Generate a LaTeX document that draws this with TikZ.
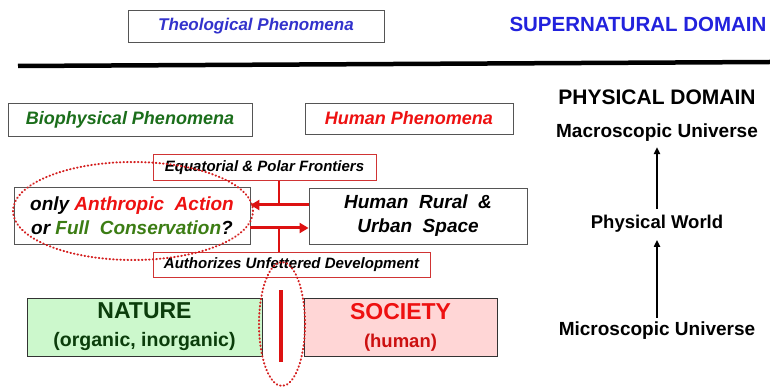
\documentclass[tikz,border=0pt]{standalone}
\usepackage{fontspec}
\setmainfont{Liberation Sans}
\usetikzlibrary{arrows.meta,shapes.geometric}

\definecolor{boxgray}{HTML}{555555}
\definecolor{framered}{HTML}{D03434}
\definecolor{ringred}{HTML}{D42020}
\definecolor{linkred}{HTML}{DD1111}
\definecolor{textred}{HTML}{EE1111}
\definecolor{deepred}{HTML}{CC1111}
\definecolor{textblue}{HTML}{3333CC}
\definecolor{domainblue}{HTML}{2222DD}
\definecolor{biogreen}{HTML}{1B6E1B}
\definecolor{consgreen}{HTML}{3C7D14}
\definecolor{naturegreen}{HTML}{0B3D0B}
\definecolor{naturefill}{HTML}{CCF8CC}
\definecolor{societyfill}{HTML}{FFD6D6}

\tikzset{
  phbox/.style={draw=boxgray, line width=0.9pt, fill=white, inner sep=0pt,
    font=\bfseries\itshape\fontsize{18}{22}\selectfont},
  framebox/.style={draw=framered, line width=1pt, fill=white, inner sep=0pt,
    font=\bfseries\itshape\fontsize{15}{18}\selectfont},
  spacebox/.style={draw=boxgray, line width=0.9pt, fill=white, inner sep=0pt,
    align=center, font=\bfseries\itshape\fontsize{19}{24}\selectfont},
  realmbox/.style={draw=black!80, line width=0.9pt, inner sep=0pt, align=center,
    font=\bfseries\fontsize{19.5}{28}\selectfont},
  domaintitle/.style={inner sep=0pt, font=\bfseries\fontsize{20.5}{24}\selectfont},
  scalelabel/.style={inner sep=0pt, font=\bfseries\fontsize{19}{23}\selectfont},
  uparrow/.style={draw=black, line width=1.8pt, -{Triangle[length=7pt,width=6pt]}},
  link/.style={draw=linkred, line width=1.8pt},
  linkarrow/.style={draw=linkred, line width=3pt, -{Triangle[length=9pt,width=10pt]}},
  dotring/.style={draw=ringred, line width=2pt, line cap=round,
    dash pattern=on 0.6pt off 3pt}
}

\begin{document}
\begin{tikzpicture}[x=1pt,y=-1pt]
\useasboundingbox (0,0) rectangle (770,387);

% supernatural level
\node[phbox, minimum width=256, minimum height=32, text=textblue,
  font=\bfseries\itshape\fontsize{17}{20}\selectfont]
  (theo) at (256,26) {Theological Phenomena};
\node[domaintitle, text=domainblue] (super) at (638,24) {SUPERNATURAL DOMAIN};

% divider between the two domains
\coordinate (divL) at (18,66);
\coordinate (divR) at (770,62);
\draw[line width=4.5pt] (divL) -- (divR);

% physical level: phenomena headings
\node[phbox, minimum width=244, minimum height=33, text=biogreen]
  (bio) at (130,119.5) {Biophysical Phenomena};
\node[phbox, minimum width=208, minimum height=31, text=textred]
  (hum) at (409,118.5) {Human Phenomena};

% physical domain scale
\node[domaintitle, text=black, font=\bfseries\fontsize{21}{24}\selectfont]
  (phys) at (657,97) {PHYSICAL DOMAIN};
\node[scalelabel] (macro) at (657,133) {Macroscopic Universe};
\node[scalelabel, font=\bfseries\fontsize{18.5}{23}\selectfont]
  (world) at (657,224) {Physical World};
\node[scalelabel] (micro) at (657,331) {Microscopic Universe};
\draw[uparrow, shorten <=6pt, shorten >=5pt] (world.north) -- (macro.south);
\draw[uparrow, shorten <=4pt, shorten >=7pt] (micro.north) -- (world.south);

% frontier boxes and the exchange between the two spaces
\node[framebox] [minimum width=223, minimum height=26]
  (front) at (264.5,168) {Equatorial \& Polar Frontiers};
\node[framebox] [minimum width=277, minimum height=25]
  (auth) at (291.5,264.5) {Authorizes Unfettered Development};
\node[spacebox, minimum width=236, minimum height=57]
  (choice) at (132,215.5)
  {only \textcolor{textred}{Anthropic\ \ Action}\\
   or \textcolor{consgreen}{Full\ \ Conservation}?};
\node[spacebox, minimum width=218, minimum height=56]
  (urban) at (418,216) {Human\ \ Rural\ \ \&\\Urban\ \ Space};

\coordinate (jtop) at (279,205);
\coordinate (jbot) at (279,228);
\draw[link] (front.south -| jtop) -- (jtop);
\draw[link] (jbot) -- (auth.north -| jbot);
\draw[linkarrow] (urban.west |- jtop) -- (choice.east |- jtop);
\draw[linkarrow] (choice.east |- jbot) -- (urban.west |- jbot);

% nature and society
\node[realmbox, fill=naturefill, minimum width=235, minimum height=58,
  text=naturegreen] (nature) at (144.5,327)
  {{\fontsize{23}{28}\selectfont NATURE}\\
   (organic, inorganic)};
\node[realmbox, fill=societyfill, minimum width=193, minimum height=58]
  (society) at (400.5,327)
  {{\fontsize{23}{28}\selectfont\color{textred} SOCIETY}\\
   {\fontsize{18.5}{28}\selectfont\color{deepred} (human)}};

% separating bar between nature and society
\coordinate (barT) at (281,290);
\coordinate (barB) at (281,362);
\draw[draw=linkred, line width=4.5pt] (barT) -- (barB);

% dotted rings
\node[dotring, ellipse, inner sep=0pt, minimum width=240, minimum height=98]
  (ringA) at (133,211) {};
\node[dotring, ellipse, inner sep=0pt, minimum width=46, minimum height=124]
  (ringB) at (282,324) {};
\end{tikzpicture}
\end{document}
